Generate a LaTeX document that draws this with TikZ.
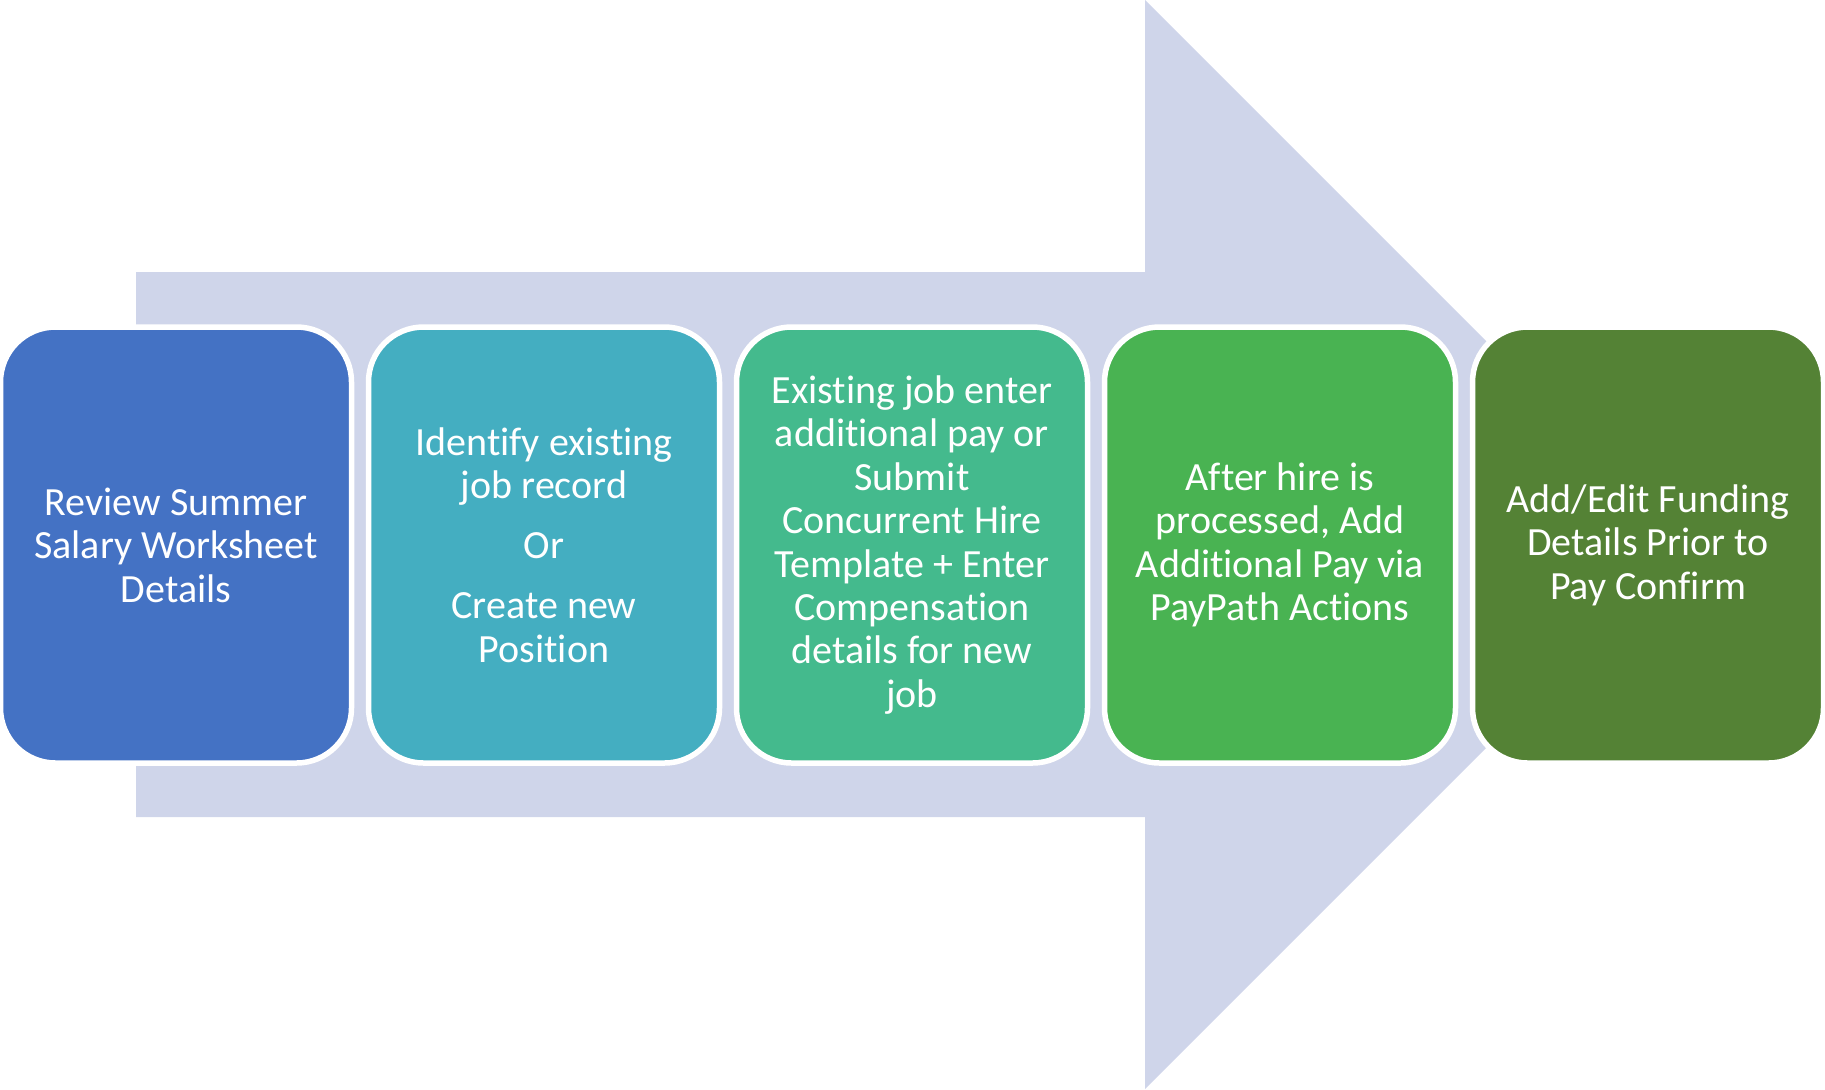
\documentclass[tikz,border=0pt]{standalone}
\usepackage{fontspec}
\setmainfont{Carlito}[Ligatures={NoCommon,NoContextual}]
\definecolor{shaftcol}{HTML}{CFD5EA}
\definecolor{stepA}{HTML}{4472C4}
\definecolor{stepB}{HTML}{44AEC1}
\definecolor{stepC}{HTML}{44BA8D}
\definecolor{stepD}{HTML}{49B352}
\definecolor{stepE}{HTML}{548235}
\tikzset{
  stepbox/.style={draw=white, line width=2.75pt, rounded corners=27.5pt,
    minimum width=175.5pt, minimum height=218pt, inner sep=0pt,
    align=center, text=white, font=\fontsize{20}{21.7}\selectfont},
}
\begin{document}
\begin{tikzpicture}[x=0.5pt,y=-0.5pt]
\useasboundingbox (0,0) rectangle (1825,1089);
% big background arrow
\fill[shaftcol] (136,272) -- (1145,272) -- (1145,0) -- (1689.5,544.5)
  -- (1145,1089) -- (1145,817) -- (136,817) -- cycle;
% process steps
\node[stepbox, fill=stepA] (s1) at (176,545)
  {Review Summer\\Salary Worksheet\\Details};
\node[stepbox, fill=stepB] (s2) at (544,545)
  {Identify existing\\job record\\[8.3pt]Or\\[8.3pt]Create new\\Position};
\node[stepbox, fill=stepC] (s3) at (912,545)
  {Existing job enter\\additional pay or\\Submit\\Concurrent Hire\\Template + Enter\\Compensation\\details for new\\job};
\node[stepbox, fill=stepD] (s4) at (1280,545)
  {After hire is\\processed, Add\\Additional Pay via\\PayPath Actions};
\node[stepbox, fill=stepE] (s5) at (1648,545)
  {Add/Edit Funding\\Details Prior to\\Pay Confirm};
\end{tikzpicture}
\end{document}
